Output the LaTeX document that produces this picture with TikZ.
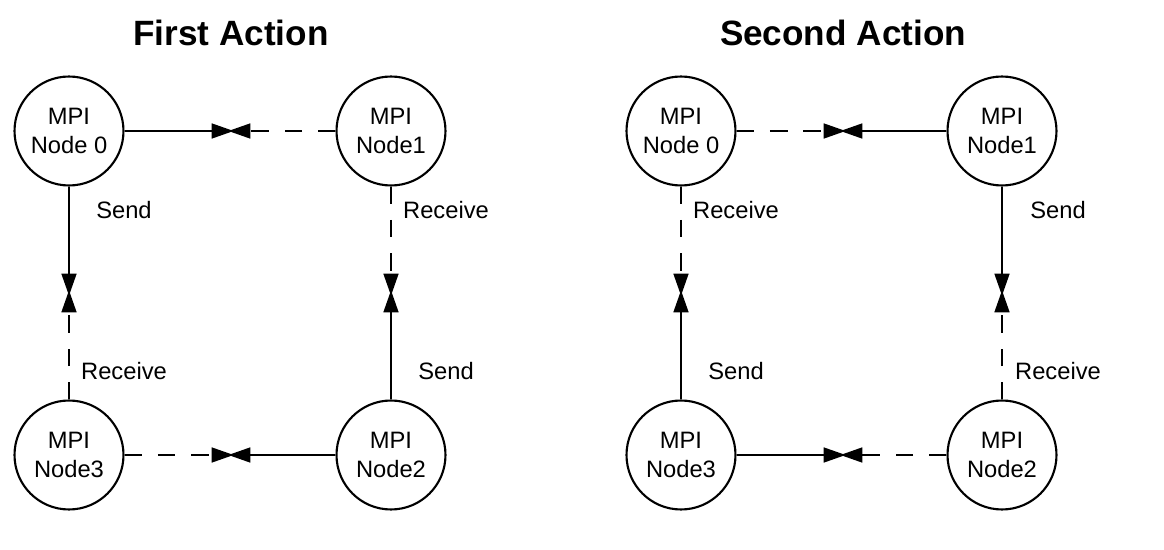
\documentclass[tikz,border=0pt]{standalone}
\usepackage{fontspec}
\setmainfont{Liberation Sans}
\usetikzlibrary{arrows.meta}

\tikzset{
  mpi/.style={circle, draw, line width=1.2pt, minimum size=2.18cm, inner sep=0pt,
    align=center, font=\fontsize{13.5}{16.5}\selectfont},
  lbl/.style={font=\fontsize{13.5}{16.5}\selectfont},
  ttl/.style={font=\fontsize{20}{24}\selectfont\bfseries},
  snd/.style={line width=1pt, shorten >=-1.5pt, -{Triangle[length=12.5pt,width=8.5pt]}},
  rcv/.style={line width=1pt, shorten >=-1.5pt, dash pattern=on 10pt off 9pt, -{Triangle[length=12.5pt,width=8.5pt]}}
}

\begin{document}
\begin{tikzpicture}[x=0.02cm, y=-0.02cm]
    \useasboundingbox (0,0) rectangle (1164,550);

    % first action
    \node[ttl] (t1) at (231,33) {First Action};
    \node[mpi] (a0) at (69,131) {MPI\\Node 0};
    \node[mpi] (a1) at (391,131) {MPI\\Node1};
    \node[mpi] (a2) at (391,455) {MPI\\Node2};
    \node[mpi] (a3) at (69,455) {MPI\\Node3};
    \coordinate (a01) at (231,131);
    \coordinate (a03) at (69,293);
    \coordinate (a12) at (391,293);
    \coordinate (a23) at (231,455);

    \draw[snd] (a0) -- (a01);
    \draw[rcv] (a1) -- (a01);
    \draw[snd] (a0) -- (a03);
    \draw[rcv] (a3) -- (a03);
    \draw[rcv] (a1) -- (a12);
    \draw[snd] (a2) -- (a12);
    \draw[snd] (a2) -- (a23);
    \draw[rcv] (a3) -- (a23);

    \node[lbl] (la0) at (124,210) {Send};
    \node[lbl] (la1) at (446,210) {Receive};
    \node[lbl] (la3) at (124,371) {Receive};
    \node[lbl] (la2) at (446,371) {Send};

    % second action
    \node[ttl] (t2) at (843,33) {Second Action};
    \node[mpi] (b0) at (681,131) {MPI\\Node 0};
    \node[mpi] (b1) at (1002,131) {MPI\\Node1};
    \node[mpi] (b2) at (1002,455) {MPI\\Node2};
    \node[mpi] (b3) at (681,455) {MPI\\Node3};
    \coordinate (b01) at (843,131);
    \coordinate (b03) at (681,293);
    \coordinate (b12) at (1002,293);
    \coordinate (b23) at (843,455);

    \draw[rcv] (b0) -- (b01);
    \draw[snd] (b1) -- (b01);
    \draw[rcv] (b0) -- (b03);
    \draw[snd] (b3) -- (b03);
    \draw[snd] (b1) -- (b12);
    \draw[rcv] (b2) -- (b12);
    \draw[rcv] (b2) -- (b23);
    \draw[snd] (b3) -- (b23);

    \node[lbl] (lb0) at (736,210) {Receive};
    \node[lbl] (lb1) at (1058,210) {Send};
    \node[lbl] (lb3) at (736,371) {Send};
    \node[lbl] (lb2) at (1058,371) {Receive};
\end{tikzpicture}
\end{document}
